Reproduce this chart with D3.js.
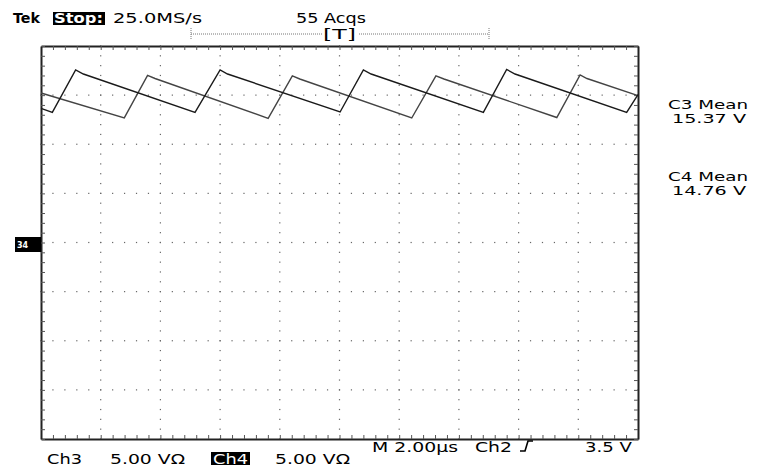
<!DOCTYPE html>
<html>
<head>
<meta charset="utf-8">
<script src="https://cdn.jsdelivr.net/npm/d3@7"></script>
<style>
body { margin: 0; background: #fff; }
text { font-family: "DejaVu Sans", sans-serif; font-size: 13.5px; fill: #000; }
</style>
</head>
<body>
<svg id="scope" width="763" height="468"></svg>
<script>
// trace vertices (time in us, volts)
var c3Time  = [0.00, 0.38, 1.16, 1.42, 5.16, 6.00, 6.25, 10.02, 10.80, 11.06, 14.82, 15.60, 15.88, 19.62, 20.00];
var c3Volts = [13.66, 13.25, 17.56, 17.15, 13.25, 17.56, 17.15, 13.28, 17.56, 17.15, 13.25, 17.61, 17.15, 13.25, 15.05];

var c4Time  = [0.00, 2.79, 3.57, 3.82, 7.61, 8.42, 8.67, 12.42, 13.23, 13.50, 17.28, 18.06, 18.29, 20.00];
var c4Volts = [15.22, 12.69, 17.00, 16.69, 12.64, 16.95, 16.64, 12.67, 16.95, 16.64, 12.72, 17.05, 16.69, 14.95];

var measureNames  = ["C3 Mean", "C4 Mean"];
var measureValues = ["15.37 V", "14.76 V"];

var headerRate = "25.0MS/s";
var headerAcqs = "55 Acqs";
var chScales   = ["5.00 V\u03a9", "5.00 V\u03a9"];
var timebase   = "M 2.00\u00b5s";
var trigSource = "Ch2";
var trigLevel  = "3.5 V";

// ==================================

var svg = d3.select("#scope");

var plotLeft = 41, plotRight = 638, plotTop = 46, plotBottom = 439;

var x = d3.scaleLinear().domain([0, 20]).range([plotLeft, plotRight]);
var y = d3.scaleLinear().domain([-20, 20]).range([plotBottom, plotTop]);

var minorT = d3.range(0, 20.001, 0.4);
var majorT = d3.range(2, 19.9, 2);
var minorV = d3.range(-20, 20.001, 1);
var majorV = d3.range(-15, 15.1, 5);

// dotted graticule
var dots = svg.append("g").attr("fill", "#666");
majorT.forEach(function(t) {
    dots.selectAll(null)
        .data(minorV)
        .enter()
        .append("rect")
        .attr("x", x(t) - 0.6)
        .attr("y", function(d) { return y(d) - 0.6; })
        .attr("width", 1.2)
        .attr("height", 1.2);
});
majorV.forEach(function(v) {
    dots.selectAll(null)
        .data(minorT)
        .enter()
        .append("rect")
        .attr("x", function(d) { return x(d) - 0.6; })
        .attr("y", y(v) - 0.6)
        .attr("width", 1.2)
        .attr("height", 1.2);
});

// border with inward ticks
var styleAxis = function(g) {
    g.selectAll("text").remove();
    g.select(".domain").attr("stroke", "#222").attr("stroke-width", 2);
    g.selectAll(".tick line").attr("stroke", "#555");
};
svg.append("g").attr("transform", "translate(0," + plotTop + ")")
    .call(d3.axisTop(x).tickValues(minorT).tickSize(-4).tickSizeOuter(0)).call(styleAxis);
svg.append("g").attr("transform", "translate(0," + plotBottom + ")")
    .call(d3.axisBottom(x).tickValues(minorT).tickSize(-4).tickSizeOuter(0)).call(styleAxis);
svg.append("g").attr("transform", "translate(" + plotLeft + ",0)")
    .call(d3.axisLeft(y).tickValues(minorV).tickSize(-4).tickSizeOuter(0)).call(styleAxis);
svg.append("g").attr("transform", "translate(" + plotRight + ",0)")
    .call(d3.axisRight(y).tickValues(minorV).tickSize(-4).tickSizeOuter(0)).call(styleAxis);

// traces
var line = d3.line()
    .x(function(d) { return x(d[0]); })
    .y(function(d) { return y(d[1]); });

svg.append("path")
    .datum(d3.zip(c4Time, c4Volts))
    .attr("fill", "none")
    .attr("stroke", "#444")
    .attr("stroke-width", 1.4)
    .attr("d", line);

svg.append("path")
    .datum(d3.zip(c3Time, c3Volts))
    .attr("fill", "none")
    .attr("stroke", "#1a1a1a")
    .attr("stroke-width", 1.4)
    .attr("d", line);

// text helper, stretched to the width seen on screen
var label = function(str, lx, ly, w, opts) {
    var t = svg.append("text")
        .attr("x", lx)
        .attr("y", ly)
        .attr("textLength", w)
        .attr("lengthAdjust", "spacingAndGlyphs")
        .text(str);
    if (opts && opts.bold) t.attr("font-weight", "bold");
    if (opts && opts.fill) t.style("fill", opts.fill);
    if (opts && opts.size) t.style("font-size", opts.size);
    return t;
};

// header
label("Tek", 13, 23, 27, { bold: true });
svg.append("rect").attr("x", 53).attr("y", 12).attr("width", 52).attr("height", 13).attr("fill", "#000");
label("Stop:", 54, 23, 49, { bold: true, fill: "#fff" });
label(headerRate, 113, 23, 89);
label(headerAcqs, 296, 23, 70);

// trigger position bar
var bar = svg.append("g").attr("stroke", "#777").attr("stroke-width", 1);
bar.append("line").attr("x1", 191).attr("x2", 489).attr("y1", 34).attr("y2", 34).attr("stroke-dasharray", "1,1");
bar.append("line").attr("x1", 191).attr("x2", 191).attr("y1", 28).attr("y2", 40).attr("stroke-dasharray", "1,1");
bar.append("line").attr("x1", 489).attr("x2", 489).attr("y1", 28).attr("y2", 40).attr("stroke-dasharray", "1,1");
svg.append("rect").attr("x", 322).attr("y", 27).attr("width", 36).attr("height", 14).attr("fill", "#fff");
label("[T]", 323, 39, 33, { size: "14px" });

// measurements
measureNames.forEach(function(name, i) {
    var by = i === 0 ? 108.5 : 181;
    label(name, 668, by, 80, { size: "12px" });
    label(measureValues[i], 672, by + 14.3, 74, { size: "12px" });
});

// ground marker
svg.append("rect").attr("x", 15).attr("y", 237).attr("width", 26).attr("height", 15).attr("fill", "#000");
svg.append("text").attr("x", 17).attr("y", 248).style("fill", "#fff").style("font-size", "8px")
    .attr("font-weight", "bold").text("34");

// footer
label("Ch3", 47, 464, 35);
label(chScales[0], 110, 464, 75);
svg.append("rect").attr("x", 211).attr("y", 452).attr("width", 39).attr("height", 13).attr("fill", "#000");
label("Ch4", 213, 464, 35, { fill: "#fff" });
label(chScales[1], 275, 464, 75);

label(timebase, 372, 452, 86);
label(trigSource, 475, 452, 37);
svg.append("path")
    .attr("d", "M520,451 H525 L528,441 H533")
    .attr("fill", "none")
    .attr("stroke", "#000")
    .attr("stroke-width", 1.6);
label(trigLevel, 585, 452, 47);
</script>
</body>
</html>
